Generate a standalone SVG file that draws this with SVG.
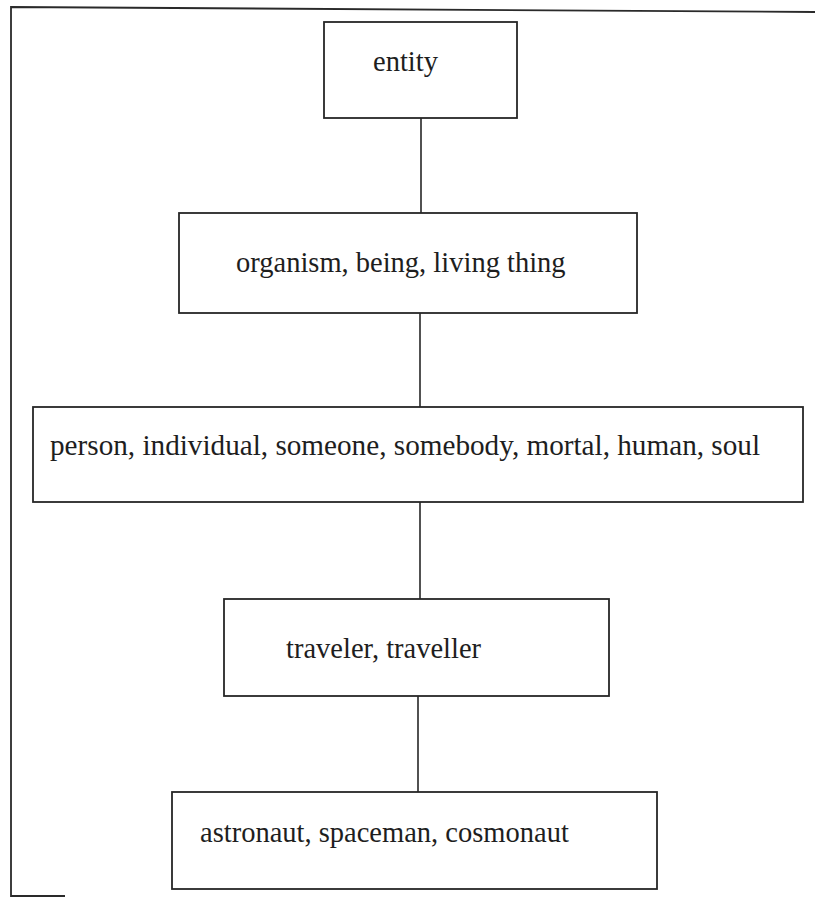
<svg xmlns="http://www.w3.org/2000/svg" width="815" height="897" viewBox="0 0 815 897">
<style>
.box{fill:#fff;stroke:#262626;stroke-width:1.8}
.lbl{font-family:"Liberation Serif","Times New Roman",serif;font-size:28.5px;fill:#1e1e1e}
.frame{fill:none;stroke:#2a2a2a;stroke-width:1.8}
.conn line{stroke:#262626;stroke-width:1.6}
</style>
<rect width="815" height="897" fill="#fff"/>
<g id="frame">
<polyline class="frame" points="815,12 11,7 11,896 65,896"/>
</g>
<g id="connectors" class="conn">
<line x1="421" y1="118" x2="421" y2="213"/>
<line x1="420" y1="313" x2="420" y2="407"/>
<line x1="420" y1="502" x2="420" y2="599"/>
<line x1="418" y1="696" x2="418" y2="792"/>
</g>
<g id="entity">
<rect class="box" x="324" y="22" width="193" height="96"/>
<text class="lbl" x="373" y="71">entity</text>
</g>
<g id="organism">
<rect class="box" x="179" y="213" width="458" height="100"/>
<text class="lbl" x="236" y="272">organism, being, living thing</text>
</g>
<g id="person">
<rect class="box" x="33" y="407" width="770" height="95"/>
<text class="lbl" x="50" y="455" textLength="710" lengthAdjust="spacingAndGlyphs">person, individual, someone, somebody, mortal, human, soul</text>
</g>
<g id="traveler">
<rect class="box" x="224" y="599" width="385" height="97"/>
<text class="lbl" x="286" y="658">traveler, traveller</text>
</g>
<g id="astronaut">
<rect class="box" x="172" y="792" width="485" height="97"/>
<text class="lbl" x="200" y="842">astronaut, spaceman, cosmonaut</text>
</g>
</svg>
